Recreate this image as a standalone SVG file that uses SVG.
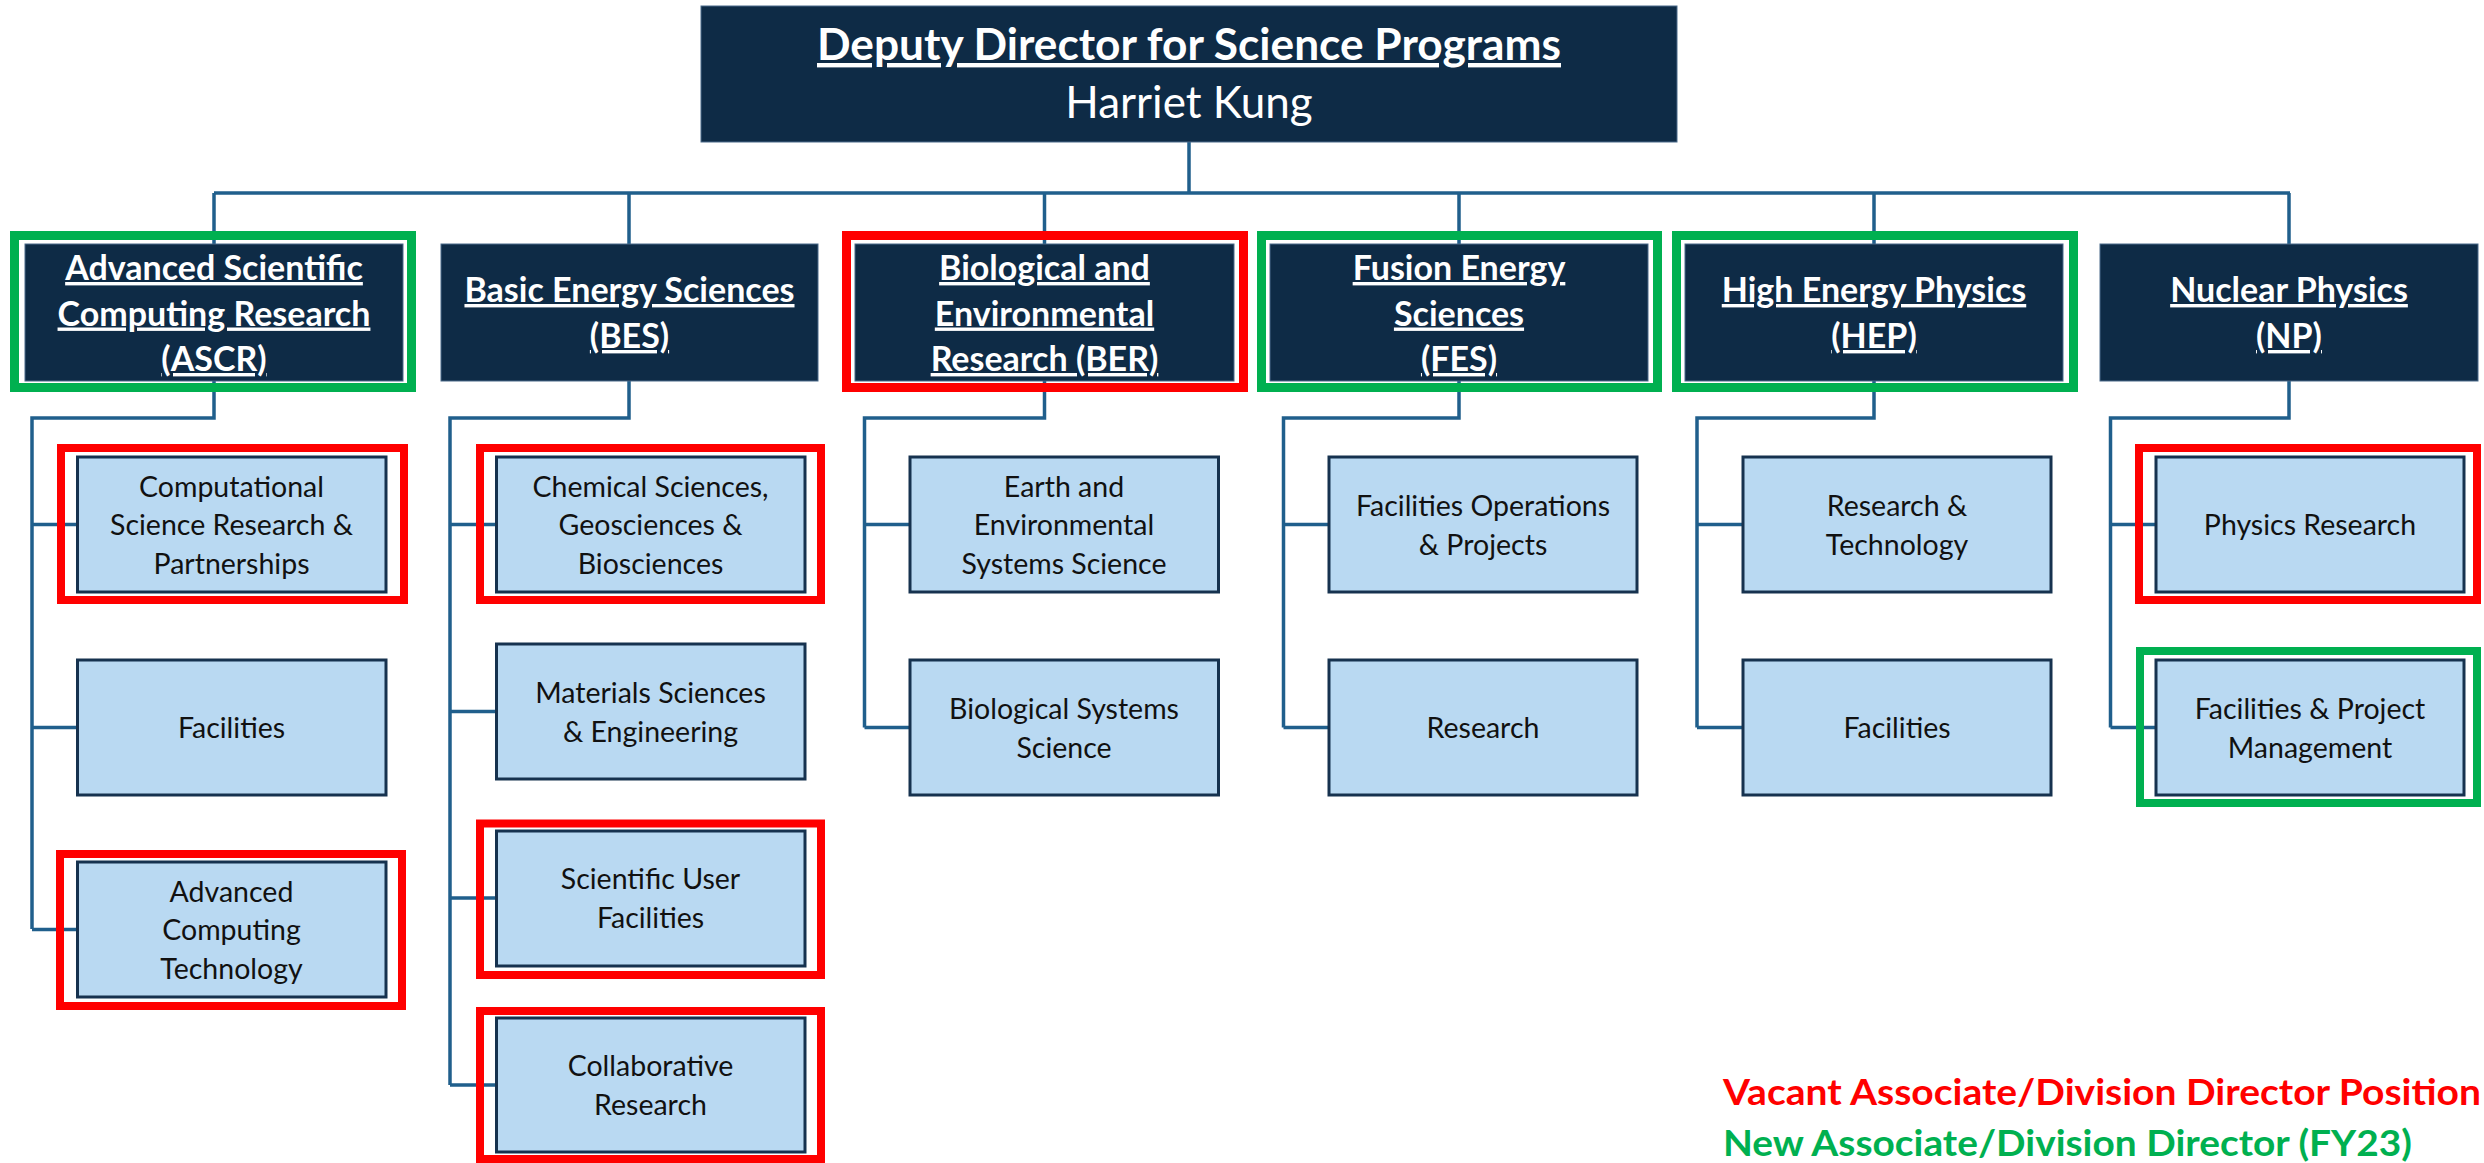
<svg xmlns="http://www.w3.org/2000/svg" width="2484" height="1163" viewBox="0 0 2484 1163">
<style>
.dark{fill:#0E2B46;stroke:#4a6b8a;stroke-width:1}
.sub{fill:#B9D9F2;stroke:#16324F;stroke-width:3}
.vac{fill:none;stroke:#FF0000;stroke-width:8}
.new{fill:none;stroke:#00B050;stroke-width:8}
.vac2{fill:none;stroke:#FF0000;stroke-width:9}
.new2{fill:none;stroke:#00B050;stroke-width:9}
.hd{font-family:Lato,"Liberation Sans",sans-serif;font-weight:bold;fill:#FFFFFF;text-anchor:middle;text-decoration:underline;font-size:34px}
.title{font-size:44px}
.name{font-family:Lato,"Liberation Sans",sans-serif;fill:#FFFFFF;text-anchor:middle;font-size:44px}
.st{font-family:Lato,"Liberation Sans",sans-serif;fill:#111111;text-anchor:middle;font-size:28.5px}
.conn{fill:none;stroke:#205F8C;stroke-width:3.5}
.leg{font-family:Lato,"Liberation Sans",sans-serif;font-weight:bold;font-size:37px}
</style>
<rect width="2484" height="1163" fill="#FFFFFF"/>
<g id="connectors">
<path class="conn" d="M1189 142V193M214 193H2290M214 193V244M629 193V244M1044.5 193V244M1459 193V244M1874 193V244M2289 193V244"/>
<path class="conn" d="M214 381V418H32V929M32 524.5H77.5M32 727.5H77.5M32 929.5H77.5"/>
<path class="conn" d="M629 381V418H450V1085M450 524.5H496.5M450 711.5H496.5M450 898H496.5M450 1085H496.5"/>
<path class="conn" d="M1044.5 381V418H864.5V727.5M864.5 524.5H910M864.5 727.5H910"/>
<path class="conn" d="M1459 381V418H1283.5V727.5M1283.5 524.5H1329M1283.5 727.5H1329"/>
<path class="conn" d="M1874 381V418H1697V727.5M1697 524.5H1743M1697 727.5H1743"/>
<path class="conn" d="M2289 381V418H2110.5V727.5M2110.5 524.5H2156M2110.5 727.5H2156"/>
</g>
<g id="deputy">
<rect class="dark" x="701" y="6" width="976" height="136"/>
<text class="hd title" x="1189" y="60" textLength="744" lengthAdjust="spacingAndGlyphs">Deputy Director for Science Programs</text>
<text class="name" x="1189" y="118">Harriet Kung</text>
</g>
<g id="ascr">
<rect class="new2" x="14.5" y="235.5" width="397" height="152"/>
<rect class="dark" x="25" y="244" width="378" height="137"/>
<text class="hd" x="214" y="280">Advanced Scientific</text>
<text class="hd" x="214" y="325.5">Computing Research</text>
<text class="hd" x="214" y="371">(ASCR)</text>
</g>
<g id="bes">
<rect class="dark" x="441" y="244" width="377" height="137"/>
<text class="hd" x="629.5" y="302">Basic Energy Sciences</text>
<text class="hd" x="629.5" y="348">(BES)</text>
</g>
<g id="ber">
<rect class="vac2" x="846.5" y="235.5" width="397" height="152"/>
<rect class="dark" x="855" y="244" width="379" height="137"/>
<text class="hd" x="1044.5" y="280">Biological and</text>
<text class="hd" x="1044.5" y="325.5">Environmental</text>
<text class="hd" x="1044.5" y="371">Research (BER)</text>
</g>
<g id="fes">
<rect class="new2" x="1261.5" y="235.5" width="396" height="152"/>
<rect class="dark" x="1270" y="244" width="378" height="137"/>
<text class="hd" x="1459" y="280">Fusion Energy</text>
<text class="hd" x="1459" y="325.5">Sciences</text>
<text class="hd" x="1459" y="371">(FES)</text>
</g>
<g id="hep">
<rect class="new2" x="1676.5" y="235.5" width="397" height="152"/>
<rect class="dark" x="1685" y="244" width="378" height="137"/>
<text class="hd" x="1874" y="302">High Energy Physics</text>
<text class="hd" x="1874" y="348">(HEP)</text>
</g>
<g id="np">
<rect class="dark" x="2100" y="244" width="378" height="137"/>
<text class="hd" x="2289" y="302">Nuclear Physics</text>
<text class="hd" x="2289" y="348">(NP)</text>
</g>
<g id="ascr-csrp">
<rect class="vac" x="61" y="448" width="343" height="152"/>
<rect class="sub" x="77.5" y="457" width="308.5" height="135"/>
<text class="st" x="231.5" y="496.5">Computational</text>
<text class="st" x="231.5" y="535">Science Research &amp;</text>
<text class="st" x="231.5" y="573.5">Partnerships</text>
</g>
<g id="ascr-fac">
<rect class="sub" x="77.5" y="660" width="308.5" height="135"/>
<text class="st" x="231.5" y="738">Facilities</text>
</g>
<g id="ascr-act">
<rect class="vac" x="60" y="854" width="342" height="152"/>
<rect class="sub" x="77.5" y="862" width="308.5" height="135"/>
<text class="st" x="231.5" y="901.5">Advanced</text>
<text class="st" x="231.5" y="940">Computing</text>
<text class="st" x="231.5" y="978.5">Technology</text>
</g>
<g id="bes-csgb">
<rect class="vac" x="480" y="448" width="341" height="152"/>
<rect class="sub" x="496.5" y="457" width="308.5" height="135"/>
<text class="st" x="650.5" y="496.5">Chemical Sciences,</text>
<text class="st" x="650.5" y="535">Geosciences &amp;</text>
<text class="st" x="650.5" y="573.5">Biosciences</text>
</g>
<g id="bes-mse">
<rect class="sub" x="496.5" y="644" width="308.5" height="135"/>
<text class="st" x="650.5" y="702.5">Materials Sciences</text>
<text class="st" x="650.5" y="741.5">&amp; Engineering</text>
</g>
<g id="bes-suf">
<rect class="vac" x="480" y="823.5" width="341" height="151.5"/>
<rect class="sub" x="496.5" y="831" width="308.5" height="135"/>
<text class="st" x="650.5" y="889">Scientific User</text>
<text class="st" x="650.5" y="928">Facilities</text>
</g>
<g id="bes-cr">
<rect class="vac" x="480" y="1011" width="341" height="148"/>
<rect class="sub" x="496.5" y="1018" width="308.5" height="134"/>
<text class="st" x="650.5" y="1076">Collaborative</text>
<text class="st" x="650.5" y="1115">Research</text>
</g>
<g id="ber-eess">
<rect class="sub" x="910" y="457" width="308.5" height="135"/>
<text class="st" x="1064" y="496.5">Earth and</text>
<text class="st" x="1064" y="535">Environmental</text>
<text class="st" x="1064" y="573.5">Systems Science</text>
</g>
<g id="ber-bss">
<rect class="sub" x="910" y="660" width="308.5" height="135"/>
<text class="st" x="1064" y="718.5">Biological Systems</text>
<text class="st" x="1064" y="757.5">Science</text>
</g>
<g id="fes-fop">
<rect class="sub" x="1329" y="457" width="308" height="135"/>
<text class="st" x="1483" y="515.5">Facilities Operations</text>
<text class="st" x="1483" y="554.5">&amp; Projects</text>
</g>
<g id="fes-res">
<rect class="sub" x="1329" y="660" width="308" height="135"/>
<text class="st" x="1483" y="738">Research</text>
</g>
<g id="hep-rt">
<rect class="sub" x="1743" y="457" width="308" height="135"/>
<text class="st" x="1897" y="515.5">Research &amp;</text>
<text class="st" x="1897" y="554.5">Technology</text>
</g>
<g id="hep-fac">
<rect class="sub" x="1743" y="660" width="308" height="135"/>
<text class="st" x="1897" y="738">Facilities</text>
</g>
<g id="np-pr">
<rect class="vac" x="2139" y="448" width="338" height="152"/>
<rect class="sub" x="2156" y="457" width="308" height="135"/>
<text class="st" x="2310" y="535">Physics Research</text>
</g>
<g id="np-fpm">
<rect class="new" x="2140" y="651" width="337" height="152"/>
<rect class="sub" x="2156" y="660" width="308" height="135"/>
<text class="st" x="2310" y="718.5">Facilities &amp; Project</text>
<text class="st" x="2310" y="757.5">Management</text>
</g>
<g id="legend">
<text class="leg" x="1723" y="1105" fill="#FF0000" textLength="758" lengthAdjust="spacingAndGlyphs">Vacant Associate/Division Director Position</text>
<text class="leg" x="1723" y="1156" fill="#00B050" textLength="689" lengthAdjust="spacingAndGlyphs">New Associate/Division Director (FY23)</text>
</g>
</svg>
